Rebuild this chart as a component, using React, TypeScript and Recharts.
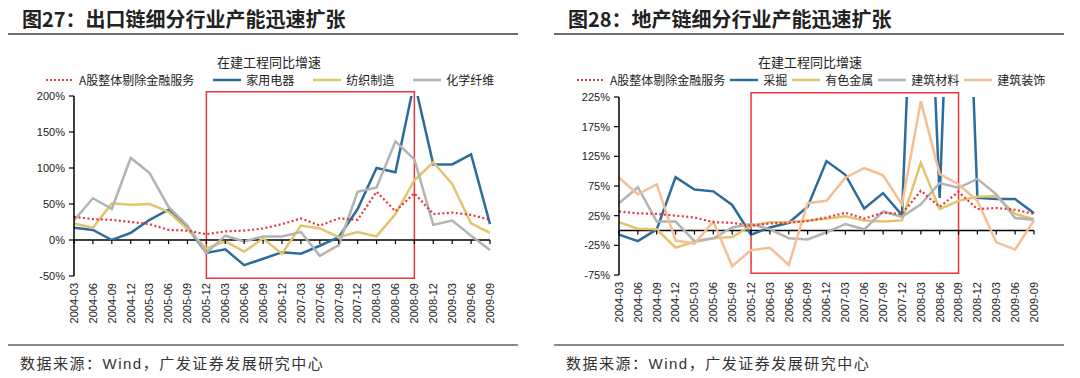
import React from "react";
import {
  LineChart,
  Line,
  XAxis,
  YAxis,
  ReferenceArea,
  ReferenceLine,
  ReferenceDot,
} from "recharts";

// quarterly x categories
const quarters = [
  "2004-03", "2004-06", "2004-09", "2004-12",
  "2005-03", "2005-06", "2005-09", "2005-12",
  "2006-03", "2006-06", "2006-09", "2006-12",
  "2007-03", "2007-06", "2007-09", "2007-12",
  "2008-03", "2008-06", "2008-09", "2008-12",
  "2009-03", "2009-06", "2009-09",
];

// 在建工程同比增速 (%)
const aShareExFin = [32, 29, 28, 25, 22, 14, 13, 8, 12, 13, 16, 22, 30, 20, 30, 28, 67, 40, 65, 36, 38, 35, 28];

// 图27 export chain
const homeAppliance = [17, 14, 0, 10, 28, 42, 17, -18, -13, -35, -26, -17, -19, -8, 4, 43, 100, 94, 220, 105, 105, 119, 22];
const textile = [23, 17, 51, 49, 50, 39, 15, -12, -2, -16, 2, -19, 20, 16, 4, 11, 5, 36, 83, 108, 78, 23, 10];
const chemFiber = [27, 58, 43, 114, 93, 46, 20, -18, 6, -2, 5, 5, 11, -22, -7, 67, 73, 137, 112, 21, 27, 6, -14];

// 图28 property chain
const mining = [-7, -18, 2, 90, 69, 66, 43, -7, 5, 13, 40, 117, 94, 37, 63, 26, 800, 55, 900, 55, 53, 53, 29];
const nonferrous = [14, 3, 2, -29, -19, -13, -11, 8, 14, 14, 17, 20, 24, 17, 15, 17, 114, 36, 50, 57, 58, 28, 19];
const buildMaterials = [46, 73, 15, 15, -18, -13, 5, 11, 2, -13, -15, -3, 11, 2, 32, 23, 44, 80, 72, 87, 61, 21, 18];
const buildDecoration = [89, 61, 78, -17, -22, 15, -60, -33, -29, -58, 46, 50, 89, 105, 93, 44, 218, 95, 78, 50, -20, -32, 17];

const leftTicks = [-50, 0, 50, 100, 150, 200];
const rightTicks = [-75, -25, 25, 75, 125, 175, 225];

const RED = "#E8343C";
const BLUE = "#2B6C9C";
const YELLOW = "#E2C46E";
const GRAY = "#B3B3B3";
const ORANGE = "#F5BE94";

const NUM_FONT = "'Liberation Sans', Arial, sans-serif";
const CJK_FONT = "'Noto Sans CJK SC', 'Noto Sans', sans-serif";

interface SeriesDef {
  name: string;
  values: number[];
  color: string;
  dotted?: boolean;
}

const leftSeries: SeriesDef[] = [
  { name: "A股整体剔除金融服务", values: aShareExFin, color: RED, dotted: true },
  { name: "家用电器", values: homeAppliance, color: BLUE },
  { name: "纺织制造", values: textile, color: YELLOW },
  { name: "化学纤维", values: chemFiber, color: GRAY },
];

const rightSeries: SeriesDef[] = [
  { name: "A股整体剔除金融服务", values: aShareExFin, color: RED, dotted: true },
  { name: "采掘", values: mining, color: BLUE },
  { name: "有色金属", values: nonferrous, color: YELLOW },
  { name: "建筑材料", values: buildMaterials, color: GRAY },
  { name: "建筑装饰", values: buildDecoration, color: ORANGE },
];

function QuarterTick({ x, y, payload }: any) {
  return (
    <text
      x={x}
      y={y}
      transform={`rotate(-90, ${x}, ${y})`}
      textAnchor="end"
      dy="0.35em"
      fontSize={11}
      fill="#222"
      fontFamily={NUM_FONT}
    >
      {payload.value}
    </text>
  );
}

function LegendRow({ series, left, top, gap }: { series: SeriesDef[]; left: number; top: number; gap: number }) {
  return (
    <div
      style={{
        position: "absolute",
        left,
        top,
        display: "flex",
        alignItems: "center",
        gap,
        fontFamily: CJK_FONT,
        fontSize: 12,
        color: "#222",
        whiteSpace: "nowrap",
      }}
    >
      {series.map((s) => (
        <div key={s.name} style={{ display: "flex", alignItems: "center", gap: 5 }}>
          <svg width={28} height={6}>
            <line
              x1={0}
              y1={3}
              x2={28}
              y2={3}
              stroke={s.color}
              strokeWidth={s.dotted ? 2 : 2.5}
              strokeDasharray={s.dotted ? "2 2" : undefined}
            />
          </svg>
          <span>{s.name}</span>
        </div>
      ))}
    </div>
  );
}

interface PanelProps {
  left: number;
  title: string;
  series: SeriesDef[];
  domain: [number, number];
  ticks: number[];
  boxY: [number, number];
  yAxisWidth: number;
  marginTop: number;
  marginRight: number;
  xAxisHeight: number;
  subtitleCenter: number;
  legendLeft: number;
  legendGap: number;
}

function Panel(p: PanelProps) {
  const rows = quarters.map((q, i) => {
    const row: Record<string, string | number> = { q };
    p.series.forEach((s, k) => {
      row["s" + k] = s.values[i];
    });
    return row;
  });
  // red dotted benchmark drawn last, on top
  const drawOrder = [...p.series.map((s, k) => ({ s, k })).slice(1), { s: p.series[0], k: 0 }];

  return (
    <div style={{ position: "absolute", left: p.left, top: 0, width: 540, height: 378 }}>
      <div
        style={{
          position: "absolute",
          left: 22,
          top: 4,
          fontFamily: CJK_FONT,
          fontWeight: 700,
          fontSize: 20,
          color: "#222",
          whiteSpace: "nowrap",
        }}
      >
        {p.title}
      </div>
      <div style={{ position: "absolute", left: 8, top: 33, width: 510, height: 1.5, background: "#6f6f6f" }} />
      <div
        style={{
          position: "absolute",
          left: p.subtitleCenter - 80,
          width: 160,
          top: 52,
          textAlign: "center",
          fontFamily: CJK_FONT,
          fontSize: 13,
          color: "#222",
        }}
      >
        在建工程同比增速
      </div>
      <LegendRow series={p.series} left={p.legendLeft} top={71} gap={p.legendGap} />

      <div style={{ position: "absolute", left: 0, top: 0 }}>
        <LineChart
          width={540}
          height={378}
          data={rows}
          margin={{ top: p.marginTop, right: p.marginRight, bottom: 0, left: 0 }}
        >
          <ReferenceArea
            x1="2005-12"
            x2="2008-09"
            y1={p.boxY[0]}
            y2={p.boxY[1]}
            fill="none"
            fillOpacity={0}
            stroke={RED}
            strokeWidth={1.5}
            ifOverflow="visible"
          />
          <XAxis
            dataKey="q"
            interval={0}
            height={p.xAxisHeight}
            axisLine={false}
            tickLine={false}
            tickSize={0}
            tickMargin={7}
            tick={<QuarterTick />}
          />
          <YAxis
            domain={p.domain}
            ticks={p.ticks}
            allowDataOverflow
            width={p.yAxisWidth}
            tickFormatter={(v: number) => `${v}%`}
            tick={{ fontSize: 11, fill: "#222", fontFamily: NUM_FONT }}
            axisLine={{ stroke: "#000", strokeWidth: 1.5 }}
            tickLine={{ stroke: "#000", strokeWidth: 1.2 }}
            tickSize={5}
            tickMargin={4}
          />
          <ReferenceLine y={0} stroke="#000" strokeWidth={1.5} />
          {quarters.map((q) => (
            <ReferenceDot
              key={q}
              x={q}
              y={0}
              r={0}
              ifOverflow="visible"
              shape={(d: any) => (
                <line x1={d.cx} y1={d.cy} x2={d.cx} y2={d.cy + 4} stroke="#000" strokeWidth={1.2} />
              )}
            />
          ))}
          {drawOrder.map(({ s, k }) => (
            <Line
              key={s.name}
              type="linear"
              dataKey={"s" + k}
              name={s.name}
              stroke={s.color}
              strokeWidth={s.dotted ? 2.2 : 2.5}
              strokeDasharray={s.dotted ? "2 2.5" : undefined}
              dot={false}
              activeDot={false}
              isAnimationActive={false}
            />
          ))}
        </LineChart>
      </div>

      <div style={{ position: "absolute", left: 8, top: 344, width: 510, height: 1.5, background: "#8a8a8a" }} />
      <div
        style={{
          position: "absolute",
          left: 20,
          top: 352,
          fontFamily: CJK_FONT,
          fontSize: 15,
          letterSpacing: 1.5,
          color: "#333",
          whiteSpace: "nowrap",
        }}
      >
        数据来源：<span style={{ fontFamily: NUM_FONT }}>Wind</span>，广发证券发展研究中心
      </div>
    </div>
  );
}

export default function App() {
  return (
    <div
      style={{
        position: "absolute",
        left: 0,
        top: 0,
        width: 1080,
        height: 378,
        background: "#fff",
        overflow: "hidden",
      }}
    >
      <Panel
        left={0}
        title="图27：出口链细分行业产能迅速扩张"
        series={leftSeries}
        domain={[-50, 200]}
        ticks={leftTicks}
        boxY={[-53, 206]}
        yAxisWidth={74}
        marginTop={96}
        marginRight={50}
        xAxisHeight={102}
        subtitleCenter={269}
        legendLeft={46}
        legendGap={19}
      />
      <Panel
        left={546}
        title="图28：地产链细分行业产能迅速扩张"
        series={rightSeries}
        domain={[-75, 225]}
        ticks={rightTicks}
        boxY={[-72, 232]}
        yAxisWidth={73}
        marginTop={97}
        marginRight={52}
        xAxisHeight={103}
        subtitleCenter={264}
        legendLeft={31}
        legendGap={5}
      />
    </div>
  );
}
